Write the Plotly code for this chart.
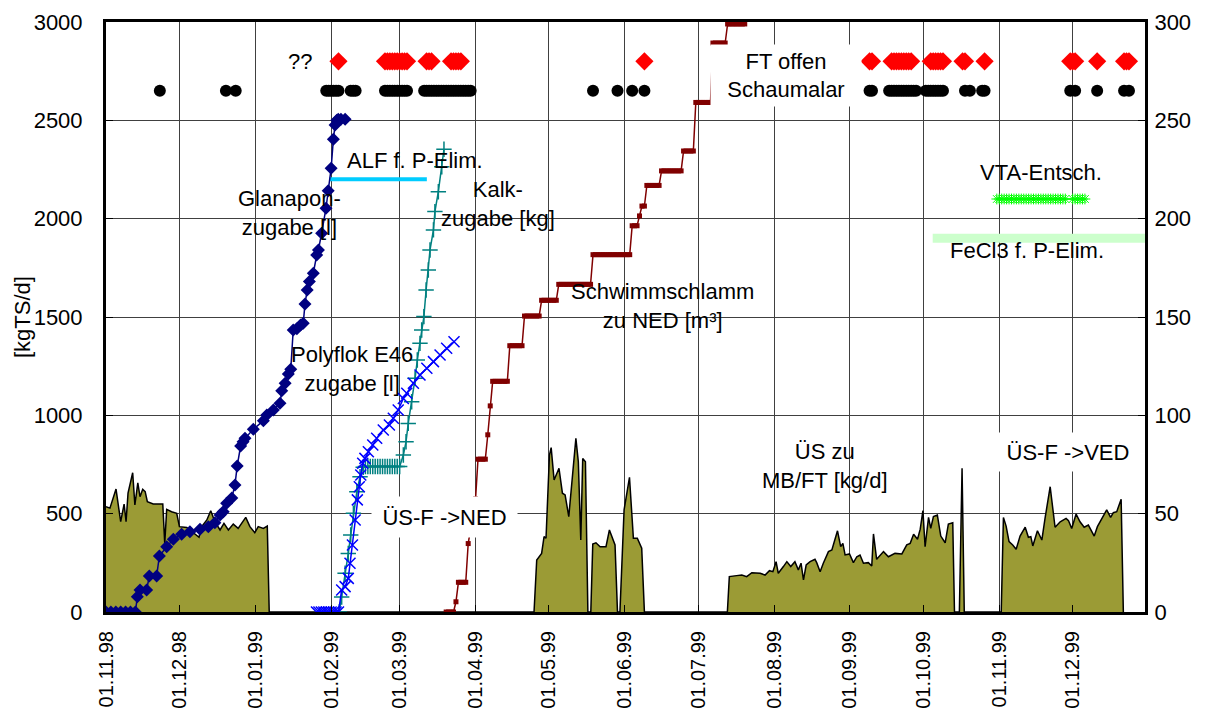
import pandas as pd
import plotly.graph_objects as go

BASE = pd.Timestamp("1998-11-01")

# ---------------- data (day offsets from 01.11.1998) ----------------
# ÜS zu MB/FT [kg/d] (olive area), left axis
us_days = [0, 1.6, 4.1, 6, 7.4, 8.2, 9, 10.9, 11.8, 13, 13.9, 15, 16, 16.9, 19.3, 23.2, 24, 24.8,
           26.8, 28.9, 30, 33, 38, 39.1, 41.2, 42.8, 44.5, 46.6, 48.2, 50, 52, 54, 57.1, 58.8, 60.8,
           62.2, 64.3, 65.9, 66.7,
           174.9, 176, 178, 179, 179.8, 181.2, 181.9, 183.1, 185.1, 186.5, 187.6, 189.1, 190.3, 192,
           193, 194, 194.8, 195.9, 196.9, 198.1, 198.9, 200.2, 201.9, 204.3, 205.7, 208, 209, 210,
           211.7, 213.9, 215.5, 217.1, 218.9, 220,
           253.9, 254.7, 257.7, 259.8, 261.8, 263.9, 267.3, 269.3, 271.1, 272.5, 273.8, 274.7, 276.8,
           278.2, 279.8, 281.5, 282.9, 284, 285, 286.1, 287.7, 289.7, 290.4, 291.8, 293.1, 295.2,
           296.6, 298.9, 300.2, 301.1, 302, 303.8, 305.4, 306.8, 308.1, 309.5, 311.5, 312.9, 313.6,
           314.9, 317.7, 319.7, 322.4, 325.2, 327.2, 328.6, 330, 331.6, 332.7, 333.8, 334.7, 336.1,
           337, 338.1, 339.7, 341.1, 342.9, 344.2, 346, 346.7, 348.7, 349.8, 350.7,
           365.8, 366.7, 367.8, 369, 370.5, 371.9, 373.5, 375.6, 376.9, 377.9, 378.7, 380.6, 382.4,
           383.7, 385.8, 387.8, 389.9, 392.3, 393.3, 394.6, 396.4, 398, 399.7, 401.4, 403.8, 405.1,
           406.9, 408.9, 410.5, 411.6, 413, 414.8, 415.7]
us_vals = [535, 528, 625, 459, 549, 459, 605, 708, 544, 657, 586, 624, 612, 561, 549, 549, 349, 522,
           510, 502, 434, 430, 380, 434, 468, 515, 459, 417, 451, 417, 447, 425, 481, 434, 403,
           434, 425, 437, 0,
           0, 264, 298, 383, 375, 798, 836, 671, 731, 604, 595, 485, 637, 883,
           764, 366, 781, 764, 0, 0, 346, 352, 332, 332, 417, 341, 0, 0,
           519, 685, 375, 375, 324, 0,
           0, 180, 185, 188, 180, 200, 197, 188, 210, 205, 256, 197, 231,
           256, 231, 256, 214, 248, 163, 239, 256, 268, 251, 205, 248, 307,
           315, 413, 332, 349, 290, 295, 251, 281, 290, 248, 251, 234, 397,
           268, 307, 281, 298, 295, 341, 349, 395, 370, 421, 515, 332, 481,
           425, 485, 493, 386, 352, 447, 454, 0, 0, 731, 0,
           0, 481, 437, 358, 341, 319, 386, 431, 380, 383, 336, 413, 366,
           476, 637, 431, 459, 476, 464, 425, 498, 459, 431, 442, 386, 434,
           476, 519, 481, 505, 510, 573, 0]

# Glanapon-zugabe [l]
gl_days = [0, 2, 4, 6, 8, 10, 12, 12.8, 13.9, 16.6, 17.7, 20.7, 21.8, 24.8, 27.5, 30.9, 34.3, 38.4,
           41.8, 44.5, 46.6, 47.9, 49.3, 51.4, 52.7, 53.6, 55, 56, 56.8, 60.2, 64.3, 65.7, 68.4, 71.1,
           71.8, 73.2, 74.5, 75.5, 76.5, 78, 79.5, 80.6, 81.3, 82.2, 83.1, 84.7, 86.1, 86.8, 88.1,
           89.9, 90.8, 92, 92.9, 93.6, 94.3, 94.9, 96, 97.7]
gl_vals = [0, 0, 0, 0, 0, 0, 0, 78, 112, 112, 183, 183, 285, 332, 370, 395, 408, 421,
           434, 454, 493, 510, 553, 580, 646, 742, 844, 866, 883, 929, 973, 1002, 1027, 1061,
           1125, 1163, 1210, 1234, 1434, 1440, 1459, 1468, 1566, 1637, 1680, 1722, 1815, 1841, 1926,
           2053, 2142, 2256, 2404, 2476, 2500, 2505, 2505, 2505]

# Polyflok E46 zugabe [l]
pf_days = [86, 87, 88, 89, 90, 91, 92, 93, 94, 95, 96.3, 97.7, 99, 99.7, 100.7, 101.8, 102.7, 103.5,
           104.1, 104.9, 105.8, 107.2, 109, 110.6, 113.3, 115.8, 117.4, 119.4, 121.5, 122.9, 125.6,
           128.3, 131.1, 133.8, 136.5, 139.2, 142.2]
pf_vals = [0, 0, 0, 0, 0, 0, 0, 0, 0, 0, 112, 129, 171, 248, 341, 468, 570, 637,
           697, 756, 781, 815, 849, 883, 925, 951, 985, 1027, 1086, 1112, 1163,
           1205, 1239, 1273, 1307, 1341, 1374]

# Kalk-zugabe [kg]
kk_days = [95.3, 96.3, 97.7, 99, 100, 101.1, 102.5, 103.8, 105.1,
           106, 107, 108, 109, 110, 111, 112, 113, 114, 115, 116, 117, 118, 119, 120,
           121.5, 122.6, 123.5, 124.9, 126.3, 127.2, 128.3, 129, 129.9, 130.8, 131.7, 132.4,
           133.8, 134.4, 135.8, 137.2, 138.1]
kk_vals = [0, 76, 197, 298, 392, 502, 612, 688, 736,
           740, 740, 740, 740, 740, 740, 740, 740, 740, 740, 740, 740, 740, 740, 740,
           798, 866, 959, 1069, 1188, 1281, 1366, 1434, 1502, 1637, 1739, 1841,
           1943, 2036, 2137, 2264, 2353]

# Schwimmschlamm zu NED [m³] (right axis), runs of (first day, last day, value)
ss_runs = [(139, 142, 0), (143, 143, 5.2), (144, 147, 15.1), (148, 148, 34.8), (151, 151, 57.5),
           (152, 155, 77.7), (156, 156, 90.1), (157, 157, 104.8), (158, 164, 117.3),
           (165, 170, 135.4), (171, 177, 150.5), (178, 184, 158.5), (185, 198, 166.6),
           (199, 214, 181.7), (215, 217, 196.4), (218, 218, 201.4), (219, 220, 206.4),
           (221, 226, 216.9), (227, 235, 224.3), (236, 240, 234.4), (241, 247, 259.1),
           (248, 253, 289.3), (254, 261, 299.0), (262, 262, 304.4)]

# event markers
red_days = [95, 114, 115, 116, 117, 118, 119, 120, 121, 122, 123, 131, 132, 133, 141, 142, 143, 144,
            145, 220, 312, 313, 321, 322, 323, 324, 325, 326, 327, 328, 329, 337, 338, 339, 340,
            341, 342, 350, 351, 359, 394, 395, 396, 405, 416, 417, 418]
red_level = 2800
blk_days = [22, 49, 53, 90, 91, 92, 93, 94, 95, 100, 101, 102, 114, 115, 116, 117, 118, 119, 120,
            121, 122, 123, 130, 131, 132, 133, 134, 135, 136, 137, 138, 139, 140, 141, 142, 143,
            144, 145, 146, 147, 148, 149, 199, 209, 215, 220, 312, 313, 320, 321, 322, 323, 324,
            325, 326, 327, 328, 329, 330, 331, 335, 336, 337, 338, 339, 340, 341, 342, 351, 353,
            358, 359, 394, 396, 405, 416, 418]
blk_level = 2650

alf_days = [91.3, 131.1]
alf_vals = [2200, 2200]
vta_days = [364, 365, 366, 367, 368, 369, 370, 371, 372, 373, 374, 375, 376, 377, 378, 379, 380,
            381, 382, 383, 384, 385, 386, 387, 388, 389, 390, 391, 392, 395, 396, 397, 398, 399, 400]
vta_level = 2100
fe_days = [337.8, 440]
fe_vals = [1900, 1900]

month_ticks = ["1998-11-01", "1998-12-01", "1999-01-01", "1999-02-01", "1999-03-01", "1999-04-01",
               "1999-05-01", "1999-06-01", "1999-07-01", "1999-08-01", "1999-09-01", "1999-10-01",
               "1999-11-01", "1999-12-01"]
month_labels = ["01.11.98", "01.12.98", "01.01.99", "01.02.99", "01.03.99", "01.04.99", "01.05.99",
                "01.06.99", "01.07.99", "01.08.99", "01.09.99", "01.10.99", "01.11.99", "01.12.99"]


def d(days):
    return [BASE + pd.Timedelta(days=float(x)) for x in days]


ss_days, ss_vals = [], []
for a, b, v in ss_runs:
    for k in range(a, b + 1):
        ss_days.append(k)
        ss_vals.append(v)

FONT = "Liberation Sans, Arial, sans-serif"

fig = go.Figure()
fig.add_trace(go.Scatter(x=d(us_days), y=us_vals, mode="lines", fill="tozeroy",
                         fillcolor="#9B9B35", line=dict(color="black", width=1.5)))
fig.add_trace(go.Scatter(x=d(fe_days), y=fe_vals, mode="lines",
                         line=dict(color="#CCFFCC", width=9)))
fig.add_trace(go.Scatter(x=d(alf_days), y=alf_vals, mode="lines",
                         line=dict(color="#00CCFF", width=4)))
fig.add_trace(go.Scatter(x=d(vta_days), y=[vta_level] * len(vta_days), mode="lines+markers",
                         line=dict(color="#00FF00", width=1),
                         marker=dict(symbol="asterisk-open", size=9,
                                     line=dict(color="#00FF00", width=1))))
fig.add_trace(go.Scatter(x=d(gl_days), y=gl_vals, mode="lines+markers",
                         line=dict(color="#000080", width=1.5),
                         marker=dict(symbol="diamond", size=10, color="#000080")))
fig.add_trace(go.Scatter(x=d(kk_days), y=kk_vals, mode="lines+markers",
                         line=dict(color="#008080", width=1.5),
                         marker=dict(symbol="cross-thin-open", size=11,
                                     line=dict(color="#008080", width=1.5))))
fig.add_trace(go.Scatter(x=d(pf_days), y=pf_vals, mode="lines+markers",
                         line=dict(color="#0000FF", width=1.5),
                         marker=dict(symbol="x-thin-open", size=11,
                                     line=dict(color="#0000FF", width=1.5))))
fig.add_trace(go.Scatter(x=d(red_days), y=[red_level] * len(red_days), mode="markers",
                         marker=dict(symbol="diamond", size=14, color="#FF0000")))
fig.add_trace(go.Scatter(x=d(blk_days), y=[blk_level] * len(blk_days), mode="markers",
                         marker=dict(symbol="circle", size=12, color="black")))
fig.add_trace(go.Scatter(x=d(ss_days), y=ss_vals, yaxis="y2", mode="lines+markers",
                         line=dict(color="#800000", width=1.5),
                         marker=dict(symbol="square", size=5, color="#800000")))

L, T, W, H = 106, 22, 1039, 590


def px(x, y):
    return (x - L) / W, (T + H - y) / H


def note(text, x, y, **kw):
    xp, yp = px(x, y)
    fig.add_annotation(x=xp, y=yp, xref="paper", yref="paper", text=text, showarrow=False,
                       xanchor="center", yanchor="middle",
                       font=dict(family=FONT, size=22, color="black"), **kw)


note("??", 299.5, 61.5)
note("ALF f. P-Elim.", 415, 160)
note("Glanapon-<br>zugabe [l]", 289, 213)
note("Kalk-<br>zugabe [kg]", 497.5, 204)
note("Polyflok E46<br>zugabe [l]", 352, 369)
note("ÜS-F ->NED", 444.5, 517, bgcolor="white", width=145, height=40, borderpad=0)
note("Schwimmschlamm<br>zu NED [m³]", 662, 306)
note("FT offen<br>Schaumalar", 786, 75.5, bgcolor="white", width=150, height=61, borderpad=0)
note("ÜS zu<br>MB/FT [kg/d]", 824.5, 466)
note("ÜS-F ->VED", 1068, 452, bgcolor="white", width=146, height=38, borderpad=0)
note("VTA-Entsch.", 1041, 172)
note("FeCl3 f. P-Elim.", 1027, 250)
note("[kgTS/d]", 22, 317, textangle=-90)

axis_common = dict(showline=True, linecolor="black", linewidth=3, ticks="inside", ticklen=7,
                   tickcolor="black", tickwidth=1, automargin=False,
                   tickfont=dict(family=FONT, size=22, color="black"))

fig.update_layout(
    width=1211, height=711, autosize=False,
    margin=dict(l=L, r=1211 - L - W, t=T, b=711 - T - H, autoexpand=False),
    paper_bgcolor="white", plot_bgcolor="white", showlegend=False,
    xaxis=dict(type="date", range=[BASE, BASE + pd.Timedelta(days=424.55)],
               tickvals=month_ticks, ticktext=month_labels, tickangle=-90,
               showgrid=True, gridcolor="#404040", gridwidth=1, mirror=True,
               zeroline=False, ticklabelstandoff=8,
               **{**axis_common, "tickfont": dict(family=FONT, size=20, color="black")}),
    yaxis=dict(range=[0, 3000], tickvals=[0, 500, 1000, 1500, 2000, 2500, 3000],
               showgrid=True, gridcolor="#404040", gridwidth=1, mirror=True, zeroline=False,
               ticklabelstandoff=16, **axis_common),
    yaxis2=dict(range=[0, 300], tickvals=[0, 50, 100, 150, 200, 250, 300], overlaying="y",
                side="right", showgrid=False, zeroline=False, ticklabelstandoff=2,
                **axis_common),
)

fig.write_html("out.html", config={"displayModeBar": False},
               post_script="document.body.style.margin='0px';document.body.style.overflow='hidden';")
